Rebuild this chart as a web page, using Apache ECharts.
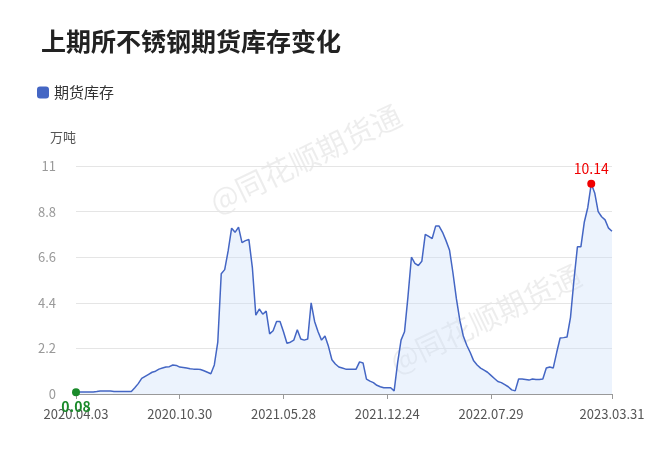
<!DOCTYPE html>
<html lang="zh">
<head>
<meta charset="UTF-8">
<title>上期所不锈钢期货库存变化</title>
<script src="https://cdn.jsdelivr.net/npm/echarts@6/dist/echarts.min.js"></script>
<style>body{margin:0;background:#fff}</style>
</head>
<body>
<div id="chart" style="width:660px;height:449px;"></div>
<script>
// weekly dates, 2020.04.03 - 2023.03.31 (Spring Festival week 2022.02.04 missing)
var dates = [];
var d = new Date(2020, 3, 3);
while (d <= new Date(2023, 2, 31)) {
    var m = d.getMonth() + 1, dd = d.getDate();
    var s = d.getFullYear() + '.' + (m < 10 ? '0' : '') + m + '.' + (dd < 10 ? '0' : '') + dd;
    if (s !== '2022.02.04') dates.push(s);
    d.setDate(d.getDate() + 7);
}
var stock = [0.08,0.1,0.1,0.1,0.1,0.1,0.12,0.15,0.15,0.15,0.14,0.12,0.12,0.12,0.12,0.12,0.12,
    0.3,0.5,0.75,0.85,0.95,1.05,1.1,1.2,1.25,1.3,1.32,1.4,1.38,1.3,1.28,1.25,1.22,1.2,1.2,1.18,1.12,1.05,0.98,
    1.4,2.5,5.8,6.0,6.9,8.0,7.8,8.05,7.3,7.4,7.45,6.1,3.8,4.1,3.85,4.0,2.9,3.05,3.5,3.5,3.0,2.45,2.5,2.6,3.1,
    2.65,2.6,2.65,4.4,3.5,3.0,2.6,2.8,2.3,1.65,1.45,1.3,1.25,1.2,1.2,1.2,1.2,1.55,1.5,0.72,0.62,0.55,0.42,0.35,
    0.3,0.3,0.3,0.15,1.5,2.6,3.0,4.7,6.6,6.3,6.2,6.4,7.7,7.6,7.5,8.1,8.1,7.8,7.4,6.95,5.85,4.6,3.55,2.8,
    2.35,2.0,1.6,1.4,1.25,1.15,1.05,0.9,0.75,0.6,0.55,0.45,0.35,0.2,0.15,0.72,0.72,0.7,0.67,0.72,0.7,0.7,0.72,
    1.25,1.3,1.25,2.0,2.7,2.72,2.75,3.7,5.5,7.1,7.1,8.3,9.0,10.14,9.7,8.8,8.55,8.4,8.0,7.85];

var myChart = echarts.init(document.getElementById('chart'));
var showLabel = function (i) { return (i % 30 === 0 && i <= 120) || i === dates.length - 1; };
var font = 'Noto Sans CJK SC';
var maxIdx = stock.indexOf(Math.max.apply(null, stock));

option = {
    textStyle: { fontFamily: font },
    title: {
        text: '上期所不锈钢期货库存变化',
        left: 36, top: 24,
        textStyle: { fontSize: 25, fontWeight: 'bold', color: '#222', fontFamily: font }
    },
    legend: {
        left: 32, top: 80,
        icon: 'roundRect', itemWidth: 12, itemHeight: 12,
        textStyle: { fontSize: 15, color: '#333' },
        data: ['期货库存']
    },
    graphic: [
        { type: 'text', left: 205, top: 100, rotation: Math.PI / 7,
          style: { text: '@同花顺期货通', fontSize: 30, fill: 'rgba(0,0,0,0.07)', fontFamily: font } },
        { type: 'text', left: 385, top: 260, rotation: Math.PI / 7,
          style: { text: '@同花顺期货通', fontSize: 30, fill: 'rgba(0,0,0,0.07)', fontFamily: font } }
    ],
    grid: { left: 76, right: 48, top: 166, bottom: 55 },
    xAxis: {
        type: 'category',
        boundaryGap: false,
        data: dates,
        axisLine: { lineStyle: { color: '#999' } },
        axisTick: { interval: function (i) { return showLabel(i); }, lineStyle: { color: '#999' } },
        axisLabel: { interval: function (i) { return showLabel(i); }, color: '#555', fontSize: 13, margin: 14 }
    },
    yAxis: {
        type: 'value',
        name: '万吨',
        nameGap: 22,
        nameTextStyle: { color: '#555', fontSize: 13, align: 'right' },
        min: 0, max: 11, interval: 2.2,
        axisLabel: { color: '#999', fontSize: 13, margin: 20 },
        splitLine: { lineStyle: { color: '#e5e5e5' } }
    },
    series: [{
        name: '期货库存',
        type: 'line',
        data: stock,
        symbol: 'none',
        itemStyle: { color: '#4466c4' },
        lineStyle: { color: '#4466c4', width: 1.5 },
        areaStyle: { color: 'rgba(200,222,250,0.5)' },
        markPoint: {
            symbol: 'circle', symbolSize: 8,
            data: [
                { coord: [maxIdx, stock[maxIdx]], value: stock[maxIdx],
                  itemStyle: { color: '#f00000' },
                  label: { show: true, position: 'top', distance: 4, color: '#f00000', fontSize: 14, formatter: '{c}' } },
                { coord: [0, stock[0]], value: stock[0],
                  itemStyle: { color: '#1a8a2a' },
                  label: { show: true, position: 'bottom', distance: 3, color: '#1a8a2a', fontSize: 14, fontWeight: 'bold', formatter: '{c}' } }
            ]
        }
    }]
};
myChart.setOption(option);
</script>
</body>
</html>
